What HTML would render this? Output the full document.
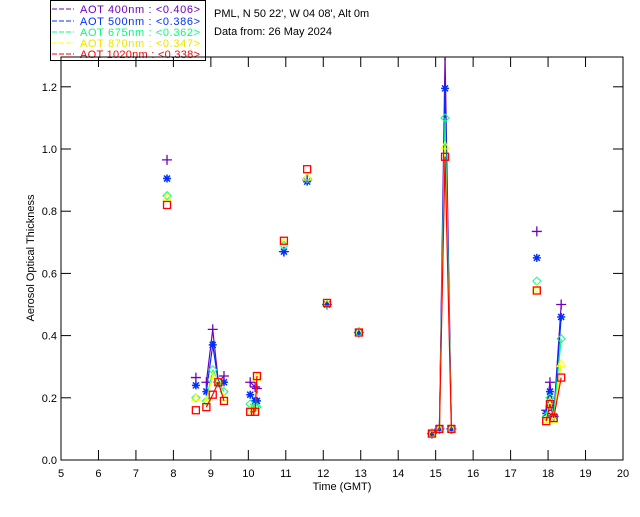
<!DOCTYPE html>
<html><head><meta charset="utf-8"><style>
body{margin:0;background:#fff;width:640px;height:512px;overflow:hidden}
svg text{font-family:"Liberation Sans",sans-serif;font-size:11px}
</style></head><body>
<svg id="chart" width="640" height="512">
<g>
<rect x="50.5" y="0.5" width="155" height="60" fill="#fff" stroke="#000"/>
<g><line x1="52" y1="9" x2="74" y2="9" stroke="#7000c0" stroke-dasharray="5,2"/><text x="80" y="13" fill="#7000c0" textLength="120" lengthAdjust="spacing">AOT  400nm : &lt;0.406&gt;</text></g>
<g><line x1="52" y1="21" x2="74" y2="21" stroke="#0030ff" stroke-dasharray="5,2"/><text x="80" y="25" fill="#0030ff" textLength="120" lengthAdjust="spacing">AOT  500nm : &lt;0.386&gt;</text></g>
<g><line x1="52" y1="32" x2="74" y2="32" stroke="#00ff80" stroke-dasharray="5,2"/><text x="80" y="36" fill="#00ff80" textLength="120" lengthAdjust="spacing">AOT  675nm : &lt;0.362&gt;</text></g>
<g><line x1="52" y1="43" x2="74" y2="43" stroke="#ffff00" stroke-dasharray="5,2"/><text x="80" y="47" fill="#e8e800" textLength="120" lengthAdjust="spacing">AOT  870nm : &lt;0.347&gt;</text></g>
<g><line x1="52" y1="54" x2="74" y2="54" stroke="#ff0000" stroke-dasharray="5,2"/><text x="80" y="58" fill="#ff0000" textLength="120" lengthAdjust="spacing">AOT 1020nm : &lt;0.338&gt;</text></g>
</g>
<text x="214" y="17">PML, N 50 22', W 04 08', Alt 0m</text>
<text x="214" y="35">Data from: 26 May 2024</text>
<text transform="translate(34,258) rotate(-90)" text-anchor="middle" font-size="10">Aerosol Optical Thickness</text>
<text x="342" y="490" text-anchor="middle">Time (GMT)</text>
<g id="axes"></g>
<g id="marks"></g>
</svg>
<script>
const times=[7.83,8.6,8.88,9.05,9.2,9.35,10.05,10.18,10.23,10.95,11.57,12.1,12.95,14.9,15.1,15.25,15.42,17.7,17.95,18.05,18.15,18.35];
const aot400=[0.965,0.265,0.25,0.42,0.25,0.27,0.25,0.235,0.23,0.67,0.9,0.5,0.41,0.085,0.1,1.3,0.1,0.735,0.16,0.25,0.14,0.5];
const aot500=[0.905,0.24,0.22,0.37,0.25,0.25,0.21,0.19,0.19,0.67,0.895,0.5,0.41,0.085,0.1,1.195,0.1,0.65,0.15,0.22,0.14,0.46];
const aot675=[0.85,0.2,0.19,0.29,0.25,0.22,0.18,0.17,0.17,0.69,0.905,0.5,0.41,0.085,0.1,1.1,0.1,0.575,0.14,0.2,0.14,0.39];
const aot870=[0.845,0.2,0.19,0.27,0.25,0.2,0.16,0.16,0.265,0.7,0.91,0.505,0.41,0.085,0.1,1.01,0.1,0.55,0.13,0.19,0.13,0.31];
const aot1020=[0.82,0.16,0.17,0.21,0.25,0.19,0.155,0.155,0.27,0.705,0.935,0.505,0.41,0.085,0.1,0.975,0.1,0.545,0.125,0.18,0.135,0.265];
const xTicks=[5,6,7,8,9,10,11,12,13,14,15,16,17,18,19,20];
const yTicks=["0.0","0.2","0.4","0.6","0.8","1.0","1.2"];
const X0=61,X1=623,Y0=460,YT=57;
const xs=h=>X0+(h-5)*(X1-X0)/15;
const ys=v=>Y0-v*311;
const NS="http://www.w3.org/2000/svg";
function mk(t,a,p){const e=document.createElementNS(NS,t);for(const k in a)e.setAttribute(k,a[k]);p.appendChild(e);return e;}
const ax=document.getElementById('axes');
const frame=mk('rect',{x:X0,y:YT,width:X1-X0,height:Y0-YT,fill:'none',stroke:'#000'},ax);


xTicks.forEach(t=>{const x=xs(t);
 const l=mk('line',{x1:x,y1:Y0,x2:x,y2:Y0-10,stroke:'#000'},ax);
 
 
 const l2=mk('line',{x1:x,y1:YT,x2:x,y2:YT+10,stroke:'#000'},ax);
 
 
 const tx=mk('text',{x:x,y:Y0+17,'text-anchor':'middle'},ax);tx.textContent=t;
 
 });
yTicks.forEach(t=>{const y=ys(parseFloat(t));
 const l=mk('line',{x1:X0,y1:y,x2:X0+10,y2:y,stroke:'#000'},ax);
 
 
 const l2=mk('line',{x1:X1,y1:y,x2:X1-10,y2:y,stroke:'#000'},ax);
 
 
 const tx=mk('text',{x:X0-4,y:y+4,'text-anchor':'end'},ax);tx.textContent=t;
 
 });
const series=[[aot400,'#7000c0','plus','400'],[aot500,'#0030ff','star','500'],[aot675,'#00ff80','diamond','675'],[aot870,'#ffff00','triangle','870'],[aot1020,'#ff0000','square','1020']];
const mg=document.getElementById('marks');
const clip=mk('clipPath',{id:'pc'},mg);mk('rect',{x:X0,y:YT,width:X1-X0,height:Y0-YT},clip);
series.forEach(([vals,col,sym,name])=>{
 const g=mk('g',{'clip-path':'url(#pc)'},mg);
 
 
 for(let i=1;i<times.length;i++){if(times[i]-times[i-1]<0.22){
  const l=mk('line',{x1:xs(times[i-1]),y1:ys(vals[i-1]),x2:xs(times[i]),y2:ys(vals[i]),stroke:col,'stroke-width':1.2},g);
  
  }}
 times.forEach((t,i)=>{const x=xs(t),y=ys(vals[i]);let e;
  if(sym=='plus')e=mk('path',{d:`M${x-5},${y}h10M${x},${y-5}v10`,stroke:col,fill:'none','stroke-width':1.3},g);
  else if(sym=='star')e=mk('path',{d:`M${x-4},${y}h8M${x},${y-4}v8M${x-3},${y-3}l6,6M${x-3},${y+3}l6,-6`,stroke:col,fill:'none','stroke-width':1.5},g);
  else if(sym=='diamond')e=mk('path',{d:`M${x},${y-4}l4,4l-4,4l-4,-4z`,stroke:col,fill:'none'},g);
  else if(sym=='triangle')e=mk('path',{d:`M${x},${y-4}l4,7h-8z`,stroke:col,fill:'none'},g);
  else e=mk('rect',{x:x-3.5,y:y-3.5,width:7,height:7,stroke:col,fill:'none','stroke-width':1.3},g);
  
  });
});
</script>
</body></html>
